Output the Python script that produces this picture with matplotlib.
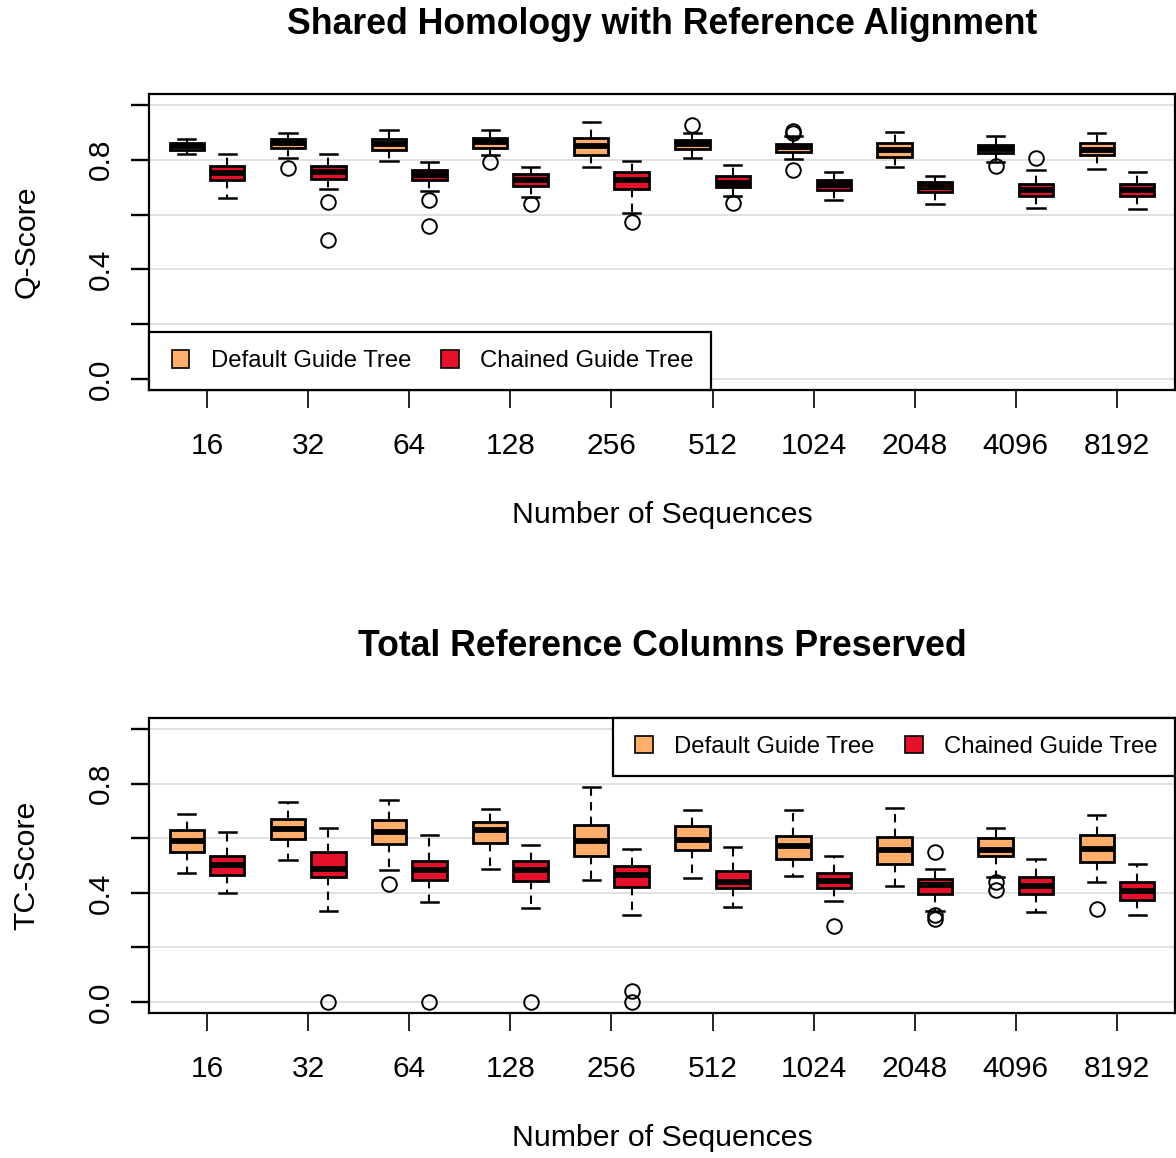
import numpy as np
import matplotlib
matplotlib.use("Agg")
import matplotlib.pyplot as plt
from matplotlib.patches import Patch, Rectangle
from matplotlib.legend_handler import HandlerPatch

plt.rcParams['font.family'] = ['Liberation Sans', 'DejaVu Sans']

sizes = ['16', '32', '64', '128', '256', '512', '1024', '2048', '4096', '8192']
series_names = ['Default Guide Tree', 'Chained Guide Tree']
orange = '#FDAE6B'
red = '#E6102A'

# box stats per group: (lower whisker, q1, median, q3, upper whisker)
q_default = [
    (0.822, 0.836, 0.849, 0.862, 0.874),
    (0.808, 0.844, 0.861, 0.874, 0.898),
    (0.797, 0.834, 0.856, 0.875, 0.908),
    (0.816, 0.842, 0.864, 0.879, 0.910),
    (0.775, 0.817, 0.851, 0.879, 0.937),
    (0.808, 0.840, 0.857, 0.871, 0.897),
    (0.802, 0.830, 0.845, 0.858, 0.886),
    (0.773, 0.810, 0.834, 0.863, 0.902),
    (0.791, 0.823, 0.840, 0.854, 0.888),
    (0.765, 0.818, 0.836, 0.861, 0.898),
]
q_default_out = [[], [0.771], [], [0.793], [], [0.926], [0.904, 0.896, 0.764], [], [0.776], []]

q_chained = [
    (0.659, 0.725, 0.751, 0.776, 0.822),
    (0.692, 0.730, 0.757, 0.779, 0.822),
    (0.685, 0.725, 0.743, 0.761, 0.793),
    (0.663, 0.704, 0.726, 0.747, 0.772),
    (0.607, 0.693, 0.725, 0.755, 0.794),
    (0.667, 0.700, 0.715, 0.741, 0.782),
    (0.652, 0.688, 0.709, 0.728, 0.754),
    (0.640, 0.682, 0.700, 0.719, 0.742),
    (0.625, 0.667, 0.691, 0.713, 0.761),
    (0.622, 0.667, 0.690, 0.713, 0.757),
]
q_chained_out = [[], [0.645, 0.509], [0.655, 0.559], [0.640], [0.574], [0.644], [], [], [0.808], []]

tc_default = [
    (0.472, 0.549, 0.590, 0.630, 0.689),
    (0.519, 0.597, 0.634, 0.672, 0.733),
    (0.482, 0.580, 0.624, 0.666, 0.740),
    (0.489, 0.584, 0.630, 0.659, 0.706),
    (0.447, 0.536, 0.591, 0.649, 0.789),
    (0.455, 0.558, 0.593, 0.646, 0.705),
    (0.460, 0.522, 0.572, 0.607, 0.705),
    (0.426, 0.507, 0.557, 0.605, 0.711),
    (0.458, 0.534, 0.557, 0.600, 0.637),
    (0.438, 0.511, 0.560, 0.612, 0.686),
]
tc_default_out = [[], [], [0.434], [], [], [], [], [], [0.438, 0.412], [0.340]]

tc_chained = [
    (0.399, 0.466, 0.501, 0.534, 0.621),
    (0.332, 0.458, 0.488, 0.551, 0.637),
    (0.366, 0.446, 0.483, 0.515, 0.613),
    (0.345, 0.443, 0.483, 0.518, 0.574),
    (0.318, 0.423, 0.465, 0.498, 0.562),
    (0.348, 0.416, 0.441, 0.479, 0.568),
    (0.369, 0.419, 0.445, 0.473, 0.534),
    (0.335, 0.396, 0.429, 0.450, 0.487),
    (0.328, 0.396, 0.424, 0.458, 0.523),
    (0.318, 0.372, 0.408, 0.440, 0.505),
]
tc_chained_out = [[], [0.0], [0.0], [0.0], [0.0, 0.041], [], [0.280], [0.550, 0.319, 0.304], [], []]


def square(legend, orig_handle, xdescent, ydescent, width, height, fontsize):
    return Rectangle((-xdescent + width - height, -ydescent), height, height)


def panel(ax, dflt, dflt_out, chnd, chnd_out, title, ylabel, loc, anchor, title_pad):
    pos = np.arange(1, len(sizes) + 1)
    for stats, outs, off, col in ((dflt, dflt_out, -0.2, orange), (chnd, chnd_out, 0.2, red)):
        bx = [dict(whislo=s[0], q1=s[1], med=s[2], q3=s[3], whishi=s[4], fliers=o)
              for s, o in zip(stats, outs)]
        ax.bxp(bx, positions=pos + off, widths=0.34, capwidths=0.17,
               patch_artist=True, manage_ticks=False,
               boxprops=dict(facecolor=col, edgecolor='black', linewidth=2.0),
               medianprops=dict(color='black', linewidth=4.2, solid_capstyle='butt'),
               whiskerprops=dict(color='black', linewidth=1.5, linestyle=(0, (4, 3))),
               capprops=dict(color='black', linewidth=1.8),
               flierprops=dict(marker='o', markersize=10.5, markerfacecolor='none',
                               markeredgecolor='black', markeredgewidth=1.4))
    ax.set_xlim(0.426, 10.574)
    ax.set_ylim(-0.04, 1.04)
    ax.set_xticks(pos, sizes)
    ax.set_yticks(np.arange(0, 1.01, 0.2), ['0.0', '', '0.4', '', '0.8', ''])
    ax.yaxis.grid(True, color='#dcdcdc', linewidth=1.2)
    ax.set_axisbelow(True)
    ax.tick_params(axis='x', direction='out', length=13, width=1.2, labelsize=21.5, pad=17)
    ax.tick_params(axis='y', direction='out', length=13, width=1.7, labelsize=21.5, pad=11.5,
                   labelrotation=90)
    for t in ax.get_yticklabels():
        t.set_verticalalignment('center')
    for sp in ax.spines.values():
        sp.set_linewidth(1.6)
    ax.set_xlabel('Number of Sequences', fontsize=21.8)
    ax.xaxis.set_label_coords(0.5, -0.375)
    ax.set_ylabel(ylabel, fontsize=21.8)
    ax.yaxis.set_label_coords(-0.106, 0.5)
    ax.set_title(title, fontsize=25.7, fontweight='bold', pad=title_pad)
    handles = [Patch(facecolor=orange, edgecolor='black', linewidth=1.2),
               Patch(facecolor=red, edgecolor='black', linewidth=1.2)]
    leg = ax.legend(handles, series_names, loc=loc, bbox_to_anchor=anchor, ncol=2,
                    fontsize=17.2, fancybox=False, edgecolor='black', framealpha=1,
                    borderaxespad=0, borderpad=0.74, handlelength=0.95, handleheight=0.76,
                    handletextpad=0.89, columnspacing=1.05,
                    handler_map={Patch: HandlerPatch(patch_func=square)})
    leg.get_frame().set_linewidth(1.6)


fig = plt.figure(figsize=(11.76, 11.58), dpi=100)
ax1 = fig.add_axes([149 / 1176, 1 - 390 / 1158, 1026 / 1176, 296 / 1158])
ax2 = fig.add_axes([149 / 1176, 1 - 1013 / 1158, 1026 / 1176, 295 / 1158])

panel(ax1, q_default, q_default_out, q_chained, q_chained_out,
      'Shared Homology with Reference Alignment', 'Q-Score', 'lower left', (0, 0), 43)
panel(ax2, tc_default, tc_default_out, tc_chained, tc_chained_out,
      'Total Reference Columns Preserved', 'TC-Score', 'upper right', (1, 1), 44.6)

fig.savefig('out.png', dpi=100)
